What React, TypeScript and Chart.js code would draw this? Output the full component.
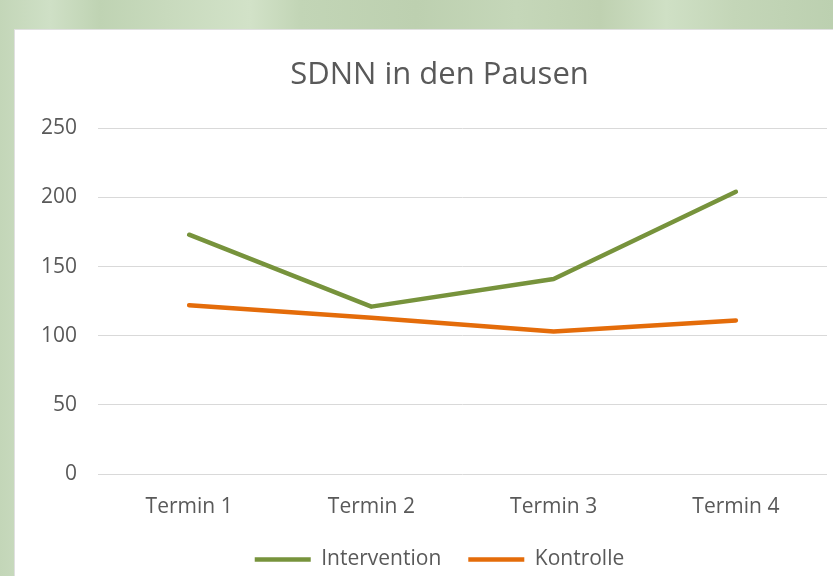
import React, { useEffect, useRef } from "react";
import { Chart, registerables } from "chart.js";

Chart.register(...registerables);

const TITLE = "SDNN in den Pausen";
const CATEGORIES = ["Termin 1", "Termin 2", "Termin 3", "Termin 4"];
const INTERVENTION = [173, 121, 141, 204];
const KONTROLLE = [122, 113, 103, 111];
const Y_MIN = 0;
const Y_MAX = 250;
const Y_STEP = 50;

const FONT = "'Open Sans', sans-serif";
const TEXT = "#595959";

export default function App() {
  const ref = useRef<HTMLCanvasElement | null>(null);

  useEffect(() => {
    if (!ref.current) return;
    const chart = new Chart(ref.current, {
      type: "line",
      data: {
        labels: CATEGORIES,
        datasets: [
          {
            label: "Intervention",
            data: INTERVENTION,
            borderColor: "#77933c",
            backgroundColor: "#77933c",
            borderWidth: 4.5,
            pointRadius: 0,
            tension: 0,
            borderCapStyle: "round",
            borderJoinStyle: "round",
          },
          {
            label: "Kontrolle",
            data: KONTROLLE,
            borderColor: "#e46c0a",
            backgroundColor: "#e46c0a",
            borderWidth: 4.5,
            pointRadius: 0,
            tension: 0,
            borderCapStyle: "round",
            borderJoinStyle: "round",
          },
        ],
      },
      options: {
        animation: false,
        responsive: false,
        maintainAspectRatio: false,
        layout: { padding: 0 },
        plugins: {
          title: {
            display: true,
            text: TITLE,
            color: TEXT,
            font: { family: FONT, size: 31, weight: "normal" },
            padding: { top: 27, bottom: 34 },
          },
          legend: {
            position: "bottom",
            labels: {
              color: TEXT,
              font: { family: FONT, size: 21 },
              usePointStyle: true,
              pointStyle: "line",
              pointStyleWidth: 56,
              padding: 27,
            },
          },
          tooltip: { enabled: false },
        },
        scales: {
          x: {
            offset: true,
            grid: { display: false },
            border: { display: false },
            ticks: {
              color: TEXT,
              font: { family: FONT, size: 21, lineHeight: 0.2 },
              padding: 23,
            },
            afterFit: (s: any) => {
              s.height = 48;
            },
          },
          y: {
            min: Y_MIN,
            max: Y_MAX,
            grid: { color: "#d9d9d9", lineWidth: 1, drawTicks: false },
            border: { display: false },
            ticks: {
              stepSize: Y_STEP,
              color: TEXT,
              font: { family: FONT, size: 21 },
              padding: 21,
            },
            afterFit: (s: any) => {
              s.width = 83;
            },
          },
          spacer: {
            type: "linear",
            position: "right",
            grid: { display: false, drawTicks: false },
            border: { display: false },
            ticks: { display: false },
            afterFit: (s: any) => {
              s.width = 37;
            },
          },
        },
      },
    });
    return () => chart.destroy();
  }, []);

  return (
    <div
      style={{
        position: "fixed",
        inset: 0,
        width: 833,
        height: 576,
        overflow: "hidden",
        background:
          "linear-gradient(90deg, #c3d6b8 0%, #cfe0c6 6%, #bfd3b3 12%, #c8dabd 20%, #d2e2c8 30%, #c2d5b6 36%, #bdd0b0 50%, #c5d7b9 62%, #bfd1b1 72%, #cfe0c5 80%, #c4d6b8 88%, #bcd0b0 100%)",
      }}
    >
      <div
        style={{
          position: "absolute",
          left: 14,
          top: 29,
          width: 819,
          height: 547,
          background: "#ffffff",
          borderLeft: "1px solid #e0e0e0",
          borderTop: "1px solid #e0e0e0",
          boxSizing: "border-box",
          overflow: "hidden",
        }}
      >
        <canvas ref={ref} width={849} height={550} style={{ display: "block" }} />
      </div>
    </div>
  );
}
